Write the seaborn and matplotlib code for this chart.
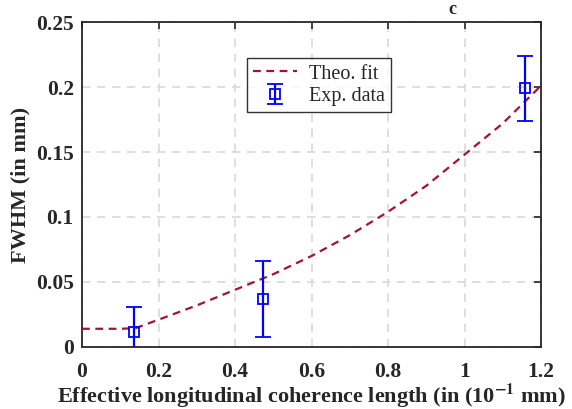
import matplotlib
matplotlib.use("Agg")
import matplotlib.pyplot as plt
import seaborn as sns
import numpy as np
import pandas as pd

# Data
fit_x = [0.0, 0.1, 0.14, 0.2, 0.3, 0.4, 0.5, 0.6, 0.7, 0.8, 0.9, 1.0, 1.1, 1.2]
fit_y = [0.014, 0.014, 0.0145, 0.021, 0.032, 0.044, 0.056, 0.070, 0.086, 0.104, 0.124, 0.148, 0.172, 0.201]
exp_x = [0.136, 0.473, 1.158]
exp_y = [0.0115, 0.037, 0.199]
exp_err = [0.0195, 0.029, 0.025]
x_ticks = [0, 0.2, 0.4, 0.6, 0.8, 1.0, 1.2]
x_tick_labels = ["0", "0.2", "0.4", "0.6", "0.8", "1", "1.2"]
y_ticks = [0, 0.05, 0.1, 0.15, 0.2, 0.25]
y_tick_labels = ["0", "0.05", "0.1", "0.15", "0.2", "0.25"]

sns.set_style("white")
plt.rcParams["font.family"] = ["Liberation Serif", "DejaVu Serif"]
plt.rcParams["mathtext.fontset"] = "stix"

fig = plt.figure(figsize=(5.72, 4.09), dpi=100)
ax = fig.add_axes([0.1434, 0.1516, 0.8024, 0.7946])

df_fit = pd.DataFrame({"x": fit_x, "y": fit_y})
sns.lineplot(data=df_fit, x="x", y="y", ax=ax, color="#A2142F", linestyle=(0, (3.5, 2.5)),
             linewidth=1.6, label="Theo. fit", zorder=3)
ax.errorbar(exp_x, exp_y, yerr=exp_err, fmt="s", color="#0000FF", mfc="none", mec="#0000FF",
            markersize=7, mew=1.3, elinewidth=1.6, capsize=5.5, capthick=1.6,
            label="Exp. data", zorder=4)

ax.set_xlim(0, 1.2)
ax.set_ylim(0, 0.25)
ax.set_xticks(x_ticks)
ax.set_xticklabels(x_tick_labels)
ax.set_yticks(y_ticks)
ax.set_yticklabels(y_tick_labels)
ax.tick_params(direction="in", length=5, width=1.2, top=True, right=True,
               labelsize=15.5)
ax.tick_params(axis="x", pad=10.5)
ax.tick_params(axis="y", pad=6)
for lab in ax.get_xticklabels() + ax.get_yticklabels():
    lab.set_fontweight("bold")
ax.grid(True, linestyle=(0, (5, 4)), color="#d9d9d9", linewidth=1.2)
for s in ax.spines.values():
    s.set_color("#262626")
    s.set_linewidth(1.3)

ax.set_xlabel(r"Effective longitudinal coherence length (in (10$^{\mathbf{-1}}$ mm)",
              fontsize=16, fontweight="bold", labelpad=0.5)
ax.set_ylabel("FWHM (in mm)", fontsize=16, fontweight="bold", labelpad=4)

leg = ax.legend(loc="center", bbox_to_anchor=(0.516, 0.806), fontsize=14.5,
                frameon=True, fancybox=False, edgecolor="black", handlelength=2.2,
                borderpad=0.3, labelspacing=0.15, handletextpad=0.6)
leg.get_frame().set_linewidth(1.0)

fig.text(452 / 572, 1 - 1 / 409, "c", fontsize=13, fontweight="bold", ha="center", va="top")

fig.savefig("out.png", dpi=100)
